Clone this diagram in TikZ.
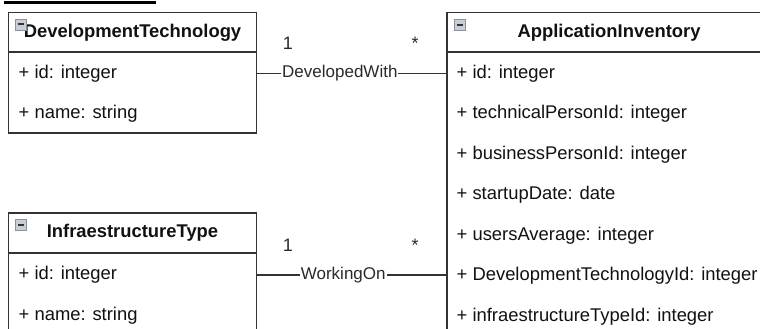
\documentclass[tikz,border=0pt]{standalone}
\usepackage{fontspec}
\setmainfont{Liberation Sans}
\definecolor{linec}{HTML}{333333}
\definecolor{iconfill}{HTML}{C9CDD6}
\definecolor{icondraw}{HTML}{8C929C}
\definecolor{txtc}{HTML}{111111}
\definecolor{lblc}{HTML}{2A2A2A}

\begin{document}
\begin{tikzpicture}[x=1pt, y=-1pt,
    head/.style={rectangle, draw=linec, line width=1.3pt, minimum height=40pt,
      inner sep=0pt, text=txtc, font=\bfseries\fontsize{18.4}{22}\selectfont},
    body/.style={rectangle, draw=linec, line width=1.3pt, inner sep=0pt},
    attr/.style={anchor=west, inner sep=0pt, text=txtc, font=\fontsize{18.4}{22}\selectfont},
    mult/.style={anchor=base, inner sep=0pt, text=lblc, font=\fontsize{18}{22}\selectfont},
    lbl/.style={font=\fontsize{17}{20}\selectfont, text=lblc, fill=white, inner sep=1pt},
    conn/.style={draw=linec, line width=1.3pt},
    icon/.style={rectangle, fill=iconfill, draw=icondraw, line width=0.8pt,
      minimum size=11pt, inner sep=0pt,
      path picture={\draw[line width=2pt, linec]
        ([xshift=2.5pt]path picture bounding box.west) --
        ([xshift=-2.5pt]path picture bounding box.east);}}]
  \useasboundingbox (0,0) rectangle (760,329);
  \clip (0,0) rectangle (760,329);
  \fill[black] (4,1) rectangle (156,4.5);

  % DevelopmentTechnology
  \node[body, minimum width=248pt, minimum height=81pt] (dt-body) at (132.5,92.5) {};
  \node[head, minimum width=248pt] (dt-head) at (132.5,32.5) {DevelopmentTechnology};
  \node[icon] (dt-icon) at (20.5,24.5) {};
  \node[attr] (dt-id)   at (18.5,73.5)  {+ id: integer};
  \node[attr] (dt-name) at (18.5,113.5) {+ name: string};

  % ApplicationInventory
  \node[body, minimum width=324pt, minimum height=293pt] (ai-body) at (609,198.5) {};
  \node[head, minimum width=324pt] (ai-head) at (609,32.5) {ApplicationInventory};
  \node[icon] (ai-icon) at (460,25) {};
  \node[attr] (ai-id)    at (456.5,73.5) {+ id: integer};
  \node[attr] (ai-tech)  at (456.5,114)  {+ technicalPersonId: integer};
  \node[attr] (ai-bus)   at (456.5,154.5){+ businessPersonId: integer};
  \node[attr] (ai-start) at (456.5,195)  {+ startupDate: date};
  \node[attr] (ai-users) at (456.5,235.5){+ usersAverage: integer};
  \node[attr] (ai-dev)   at (456.5,276)  {+ DevelopmentTechnologyId: integer};
  \node[attr] (ai-infra) at (456.5,316.5){+ infraestructureTypeId: integer};

  % InfraestructureType
  \node[body, minimum width=248pt, minimum height=92.5pt] (it-body) at (132.5,298.75) {};
  \node[head, minimum width=248pt] (it-head) at (132.5,233) {InfraestructureType};
  \node[icon] (it-icon) at (21,225) {};
  \node[attr] (it-id)   at (18.5,275) {+ id: integer};
  \node[attr] (it-name) at (18.5,315.5) {+ name: string};

  % associations
  \draw[conn] (dt-body.east |- dt-id) -- (ai-body.west |- dt-id)
    node[lbl, pos=0.437] (dev-with) {DevelopedWith};
  \node[mult] (dev-one)  at (288,50) {1};
  \node[mult] (dev-many) at (415,50) {*};

  \draw[conn] (it-body.east |- it-id) -- (ai-body.west |- it-id)
    node[lbl, pos=0.455] (work-on) {WorkingOn};
  \node[mult] (work-one)  at (288,251.5) {1};
  \node[mult] (work-many) at (415,251.5) {*};
\end{tikzpicture}
\end{document}
